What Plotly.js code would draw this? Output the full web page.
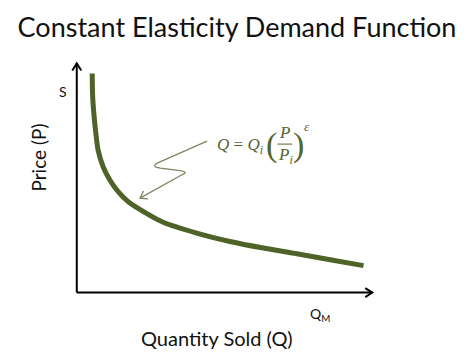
<!DOCTYPE html>
<html>
<head>
<meta charset="utf-8">
<script src="https://cdn.plot.ly/plotly-3.0.1.min.js"></script>
<style>html,body{margin:0;padding:0;background:#fff;}#chart{width:474px;height:363px;}</style>
</head>
<body>
<div id="chart"></div>
<script>
// Demand curve (arbitrary units, 0-100 scale on both axes)
const quantity = [5.22, 5.36, 5.69, 6.34, 7.22, 8.92, 11.19, 14.0, 17.39, 20.78, 29.25, 40.58, 51.86, 63.15, 74.47, 85.76, 97.05];
const price    = [95.65, 86.09, 79.57, 70.87, 62.17, 54.91, 49.13, 44.04, 39.70, 36.74, 30.65, 25.96, 22.30, 19.43, 16.96, 14.35, 11.74];

const titleText = "Constant Elasticity Demand Function";
const xTitle = "Quantity Sold (Q)";
const yTitle = "Price (P)";
const yTopLabel = "S";
const xEndLabel = "Q<sub>M</sub>";

const curveColor = "#4f6228";
const formulaColor = "#55652f";
const squiggleColor = "#7d8462";
const font = "Lato, 'Open Sans', sans-serif";
const serif = "'Liberation Serif', 'DejaVu Serif', serif";

const trace = {
  x: quantity, y: price, type: "scatter", mode: "lines",
  line: {color: curveColor, width: 5, shape: "spline", smoothing: 0.7},
  hoverinfo: "skip"
};

const layout = {
  width: 474, height: 363,
  margin: {l: 62, r: 87, t: 52, b: 59, pad: 0},
  paper_bgcolor: "#fff", plot_bgcolor: "#fff",
  showlegend: false,
  title: {text: titleText, font: {family: font, size: 27, color: "#111"},
          x: 0.5, xref: "container", y: 0.923, yref: "container", yanchor: "middle"},
  xaxis: {range: [-5, 105], visible: false, fixedrange: true},
  yaxis: {range: [-5, 105], visible: false, fixedrange: true},
  shapes: [
    // axes
    {type: "line", xref: "x", yref: "y", x0: 0, y0: 0, x1: 0, y1: 100, line: {color: "#000", width: 2}},
    {type: "line", xref: "x", yref: "y", x0: 0, y0: 0, x1: 100, y1: 0, line: {color: "#000", width: 2}},
    {type: "path", xref: "x", yref: "y", xsizemode: "pixel", ysizemode: "pixel", xanchor: 0, yanchor: 100,
     path: "M-4.5,-7 L0,0 L4.5,-7", line: {color: "#000", width: 2}},
    {type: "path", xref: "x", yref: "y", xsizemode: "pixel", ysizemode: "pixel", xanchor: 100, yanchor: 0,
     path: "M-7,4.5 L0,0 L-7,-4.5", line: {color: "#000", width: 2}},
    // squiggly pointer from formula to curve
    {type: "path", xref: "x", yref: "y",
     path: "M44.1,66.1 L27.6,56.7 Q24.8,55.0 28.3,54.3 L34.9,53.2 Q38.0,52.6 35.6,51.4 L21.4,41.2",
     line: {color: squiggleColor, width: 1.3}},
    {type: "path", xref: "x", yref: "y", xsizemode: "pixel", ysizemode: "pixel", xanchor: 21.4, yanchor: 41.2,
     path: "M8,-0.8 L0,0 L3.5,7.2", line: {color: squiggleColor, width: 1.3}},
    // fraction bar
    {type: "line", xref: "x", yref: "y", x0: 67.9, x1: 72.9, y0: 64.8, y1: 64.8, line: {color: formulaColor, width: 1}}
  ],
  annotations: [
    {x: -0.0708, y: 0.581, xref: "paper", yref: "paper", xanchor: "center", yanchor: "middle",
     text: yTitle, showarrow: false, textangle: -90,
     font: {family: font, size: 19, color: "#111"}},
    {x: 0.477, y: -0.135, xref: "paper", yref: "paper", xanchor: "center", yanchor: "middle",
     text: xTitle, showarrow: false,
     font: {family: font, size: 20, color: "#111"}},
    {x: 0.003, y: 0.845, xref: "paper", yref: "paper", xanchor: "center", yanchor: "middle",
     text: yTopLabel, showarrow: false,
     font: {family: font, size: 14, color: "#111"}},
    {x: 0.794, y: -0.040, xref: "paper", yref: "paper", xanchor: "center", yanchor: "middle",
     text: xEndLabel, showarrow: false,
     font: {family: font, size: 14, color: "#111"}},
    // formula Q = Q_i (P / P_i)^ε
    {x: 55.3, y: 63.9, xref: "x", yref: "y", text: "<i>Q</i> = <i>Q<sub>i</sub></i>", showarrow: false,
     font: {family: serif, size: 17, color: formulaColor}},
    {x: 65.9, y: 64.6, xref: "x", yref: "y", text: "(", showarrow: false,
     font: {family: serif, size: 34, color: formulaColor}},
    {x: 70.3, y: 69.8, xref: "x", yref: "y", text: "<i>P</i>", showarrow: false,
     font: {family: serif, size: 17, color: formulaColor}},
    {x: 70.6, y: 59.6, xref: "x", yref: "y", text: "<i>P<sub>i</sub></i>", showarrow: false,
     font: {family: serif, size: 17, color: formulaColor}},
    {x: 75.2, y: 64.6, xref: "x", yref: "y", text: ")", showarrow: false,
     font: {family: serif, size: 34, color: formulaColor}},
    {x: 77.9, y: 72.6, xref: "x", yref: "y", text: "<i>ε</i>", showarrow: false,
     font: {family: serif, size: 13, color: formulaColor}}
  ]
};

Plotly.newPlot("chart", [trace], layout, {displayModeBar: false, staticPlot: true});
</script>
</body>
</html>
